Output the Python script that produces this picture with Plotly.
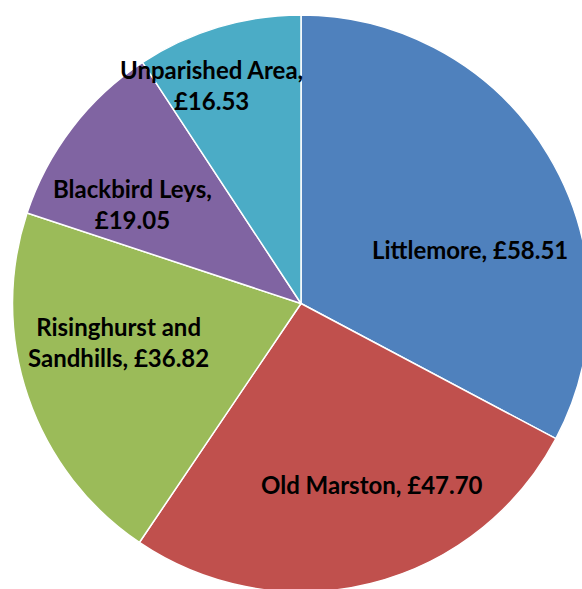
import plotly.graph_objects as go

# parish precepts (Band D, £)
parishes = ['Littlemore', 'Old Marston', 'Risinghurst and<br>Sandhills', 'Blackbird Leys', 'Unparished Area']
values = [58.51, 47.70, 36.82, 19.05, 16.53]
colors = ['#4F81BD', '#C0504D', '#9BBB59', '#8064A2', '#4BACC6']

# label text layout per slice (line break like the original)
label_text = [
    'Littlemore, £{:.2f}',
    'Old Marston, £{:.2f}',
    'Risinghurst and<br>Sandhills, £{:.2f}',
    'Blackbird Leys,<br>£{:.2f}',
    'Unparished Area,<br>£{:.2f}',
]
label_pos = [(0.792, 0.594), (0.623, 0.187), (0.185, 0.433), (0.208, 0.672), (0.346, 0.879)]

fig = go.Figure(go.Pie(
    labels=parishes,
    values=values,
    sort=False,
    direction='clockwise',
    rotation=0,
    marker=dict(colors=colors, line=dict(color='white', width=1.5)),
    textinfo='none',
    hoverinfo='label+value',
    showlegend=False,
))

for txt, v, (x, y) in zip(label_text, values, label_pos):
    fig.add_annotation(
        text='<b>' + txt.format(v) + '</b>',
        x=x, y=y, xref='paper', yref='paper',
        xanchor='center', yanchor='middle',
        showarrow=False, align='center',
        font=dict(family='Lato', size=24, color='black'),
    )

fig.update_layout(
    width=590, height=592,
    margin=dict(l=12, r=0, t=15, b=0),
    paper_bgcolor='white',
)

fig.write_html('out.html', config={'displayModeBar': False},
               post_script="document.body.style.margin='0';document.body.style.overflow='hidden';")
